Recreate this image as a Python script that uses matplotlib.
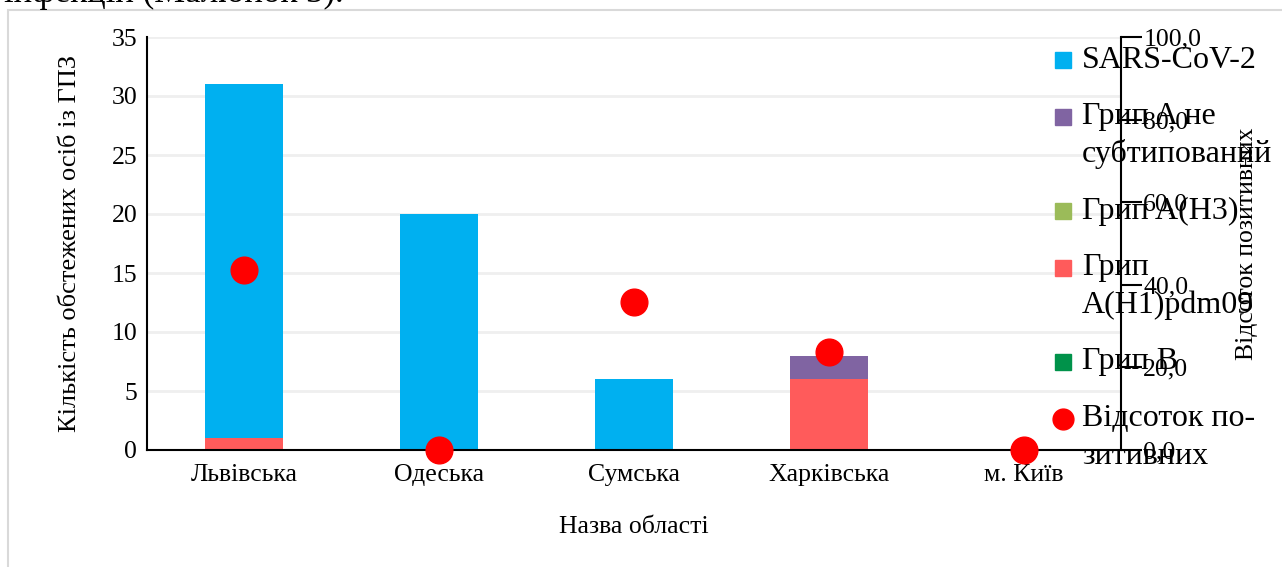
import matplotlib.pyplot as plt
from matplotlib.patches import Rectangle
from matplotlib.lines import Line2D
from matplotlib.ticker import FuncFormatter

plt.rcParams['font.family'] = ['Liberation Serif', 'DejaVu Serif']

regions = ["Львівська", "Одеська", "Сумська", "Харківська", "м. Київ"]
flu_b = [0, 0, 0, 0, 0]
flu_h1 = [1, 0, 0, 6, 0]
flu_h3 = [0, 0, 0, 0, 0]
flu_a_unsub = [0, 0, 0, 2, 0]
sars = [30, 20, 6, 0, 0]
pct_positive = [43.6, 0.0, 35.8, 23.8, 0.0]

series = [
    ("Грип B", flu_b, "#00924A"),
    ("Грип\nA(H1)pdm09", flu_h1, "#FF5B5B"),
    ("Грип A(H3)", flu_h3, "#9BBB59"),
    ("Грип A не\nсубтипований", flu_a_unsub, "#8064A2"),
    ("SARS-CoV-2", sars, "#00B0F0"),
]
pct_label = "Відсоток по-\nзитивних"
dot_color = "#FF0000"

W, H = 1282, 567
fig = plt.figure(figsize=(W / 100, H / 100), dpi=100)
ax = fig.add_axes([147 / W, 1 - 450 / H, (1121 - 147) / W, (450 - 37) / H])

# cut-off caption line from the document above the chart
fig.text(4 / W, 1 - 2 / H, "інфекцій (Малюнок 3).", fontsize=25, va="baseline", ha="left")
fig.patches.append(Rectangle((8 / W, -0.05), 1.1, 1 - 10 / H + 0.05, transform=fig.transFigure,
                             fill=False, edgecolor="#D9D9D9", linewidth=1.5))

x = list(range(len(regions)))
bottom = [0] * len(regions)
for name, vals, color in series:
    ax.bar(x, vals, width=0.4, bottom=bottom, color=color, zorder=2)
    bottom = [b + v for b, v in zip(bottom, vals)]

ax.set_xlim(-0.5, 4.5)
ax.set_ylim(0, 35)
ax.set_yticks(range(0, 36, 5))
ax.yaxis.grid(True, color="#EFEFEF", linewidth=2, zorder=0)
ax.set_axisbelow(True)
ax.set_xticks(x)
ax.set_xticklabels(regions)
ax.tick_params(axis="both", length=0, labelsize=18.5)
ax.tick_params(axis="x", pad=10)
ax.tick_params(axis="y", pad=7)
ax.spines["top"].set_visible(False)
ax.spines["right"].set_visible(False)
ax.spines["left"].set_linewidth(1.5)
ax.spines["bottom"].set_linewidth(1.5)
ax.set_xlabel("Назва області", fontsize=18.5, labelpad=22)
ax.set_ylabel("Кількість обстежених осіб із ГПЗ", fontsize=19, labelpad=22)

ax2 = ax.twinx()
ax2.set_ylim(0, 100)
ax2.set_yticks(range(0, 101, 20))
ax2.yaxis.set_major_formatter(FuncFormatter(lambda v, p: f"{v:.1f}".replace(".", ",")))
ax2.tick_params(axis="y", length=15, width=1.5, labelsize=18.5, pad=1)
for s in ["top", "left", "bottom"]:
    ax2.spines[s].set_visible(False)
ax2.spines["right"].set_linewidth(1.5)
ax2.set_ylabel("Відсоток позитивних", fontsize=18.5)
ax2.yaxis.set_label_coords((1236 - 147) / 974, 0.5)
ax2.scatter(x, pct_positive, s=370, color=dot_color, zorder=5, clip_on=False)

# legend drawn by hand: marker lines up with the first text line, like in the source
entries = [(n, c, "s") for n, _, c in reversed(series)] + [(pct_label, dot_color, "o")]
y = 60
for label, color, kind in entries:
    if kind == "s":
        fig.add_artist(Rectangle((1055 / W, 1 - (y + 8) / H), 16 / W, 16 / H,
                                 transform=fig.transFigure, color=color))
    else:
        fig.add_artist(Line2D([1063 / W], [1 - y / H], transform=fig.transFigure,
                              marker="o", markersize=15, color=color, linestyle=""))
    lines = label.split("\n")
    for k, line in enumerate(lines):
        fig.text(1082 / W, 1 - (y + 37 * k) / H, line, fontsize=23, va="center", ha="left")
    y += 37 * (len(lines) - 1) + 57

fig.savefig("out.png", dpi=100)
